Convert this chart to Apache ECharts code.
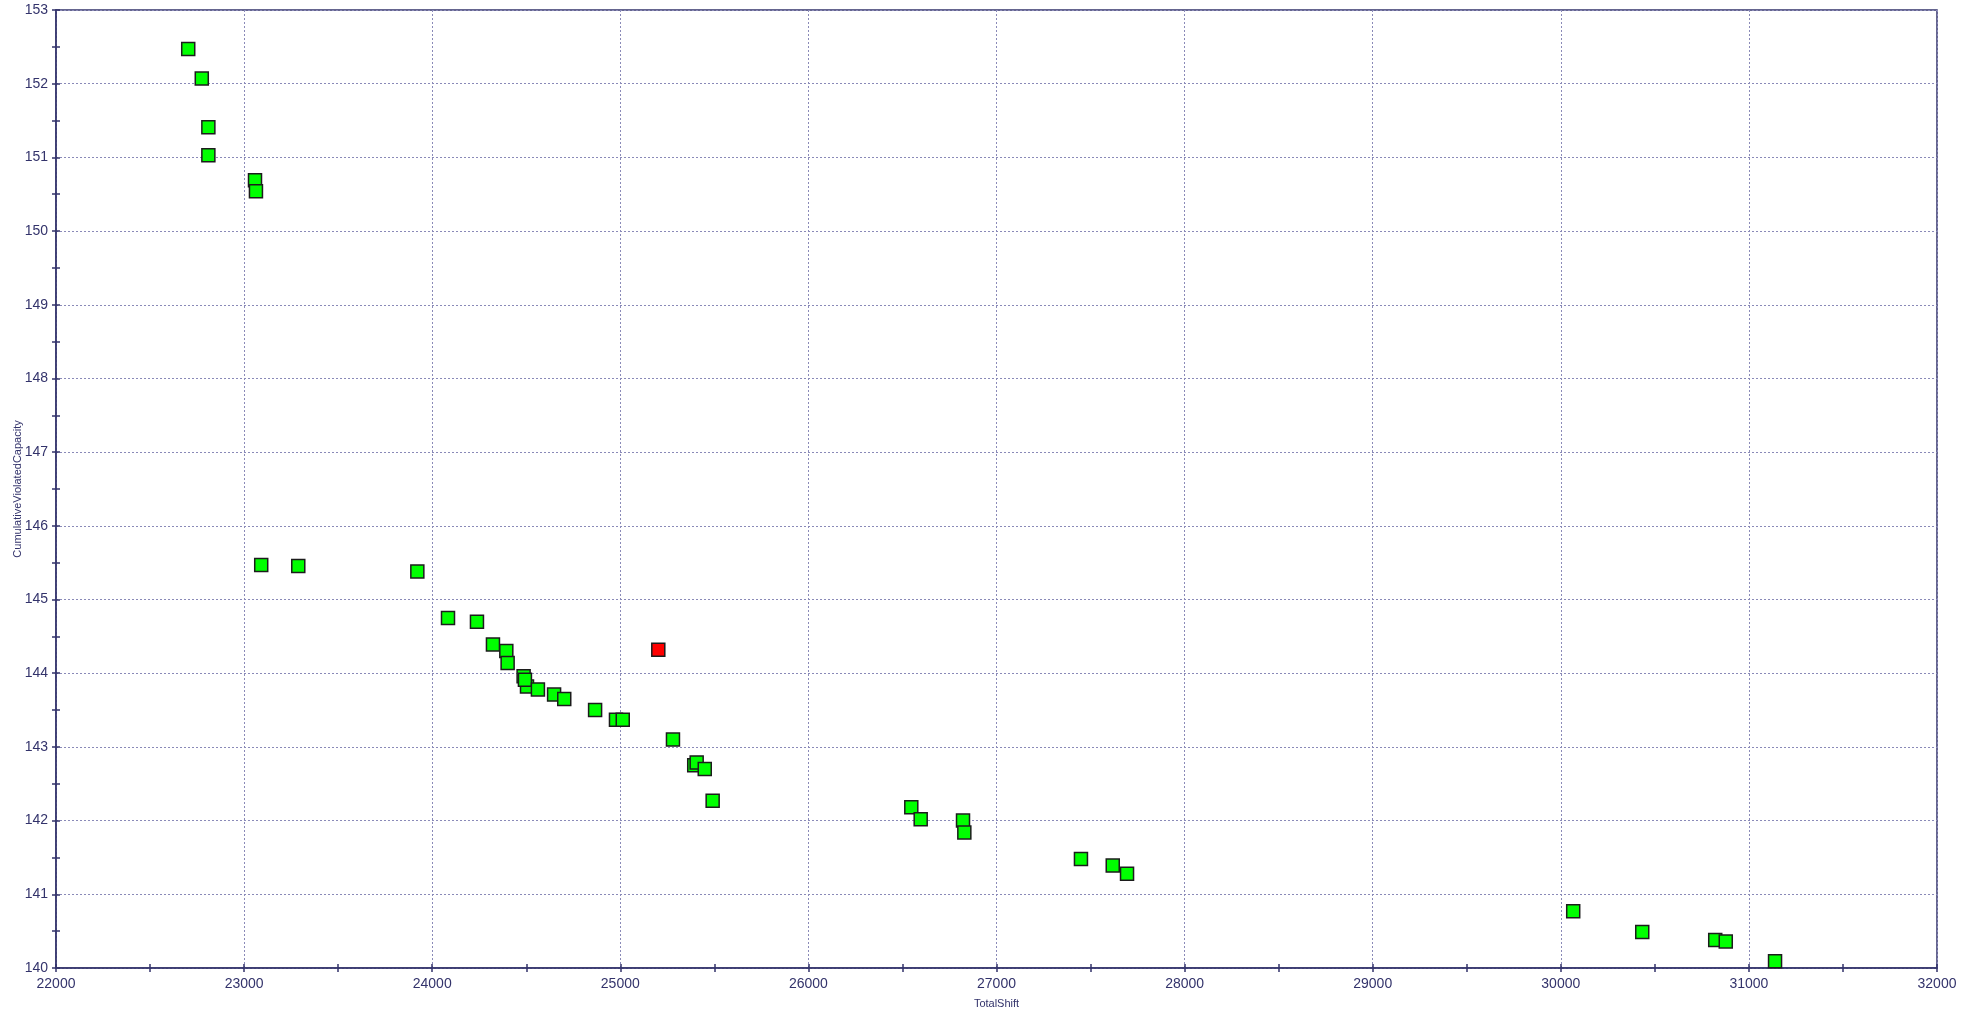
<!DOCTYPE html>
<html>
<head>
<meta charset="utf-8">
<script src="https://cdn.jsdelivr.net/npm/echarts@6/dist/echarts.min.js"></script>
<style>
html,body{margin:0;padding:0;background:#fff;}
#main{width:1977px;height:1013px;}
</style>
</head>
<body>
<div id="main"></div>
<script>
// values
var totalShift = [22703, 22775, 22810, 22810, 23058, 23063, 23091, 23288, 23921, 24084,
    24238, 24323, 24394, 24401, 24486, 24504, 24493, 24562, 24648, 24702,
    24866, 24977, 25013, 25280, 25393, 25406, 25449, 25491, 26547, 26597,
    26822, 26829, 27449, 27618, 27694, 30066, 30433, 30821, 30877, 31139];
var violatedCap = [152.47, 152.07, 151.41, 151.03, 150.69, 150.54, 145.47, 145.455, 145.38, 144.75,
    144.70, 144.39, 144.30, 144.14, 143.96, 143.82, 143.91, 143.78, 143.71, 143.65,
    143.50, 143.37, 143.37, 143.10, 142.75, 142.79, 142.70, 142.27, 142.18, 142.02,
    142.00, 141.84, 141.48, 141.39, 141.28, 140.77, 140.49, 140.38, 140.36, 140.09];
var redShift = [25202];
var redCap = [144.32];

var navy = '#33336b';
var gridCol = '#8a8ab8';

function pairs(xs, ys) {
    var out = [];
    for (var i = 0; i < xs.length; i++) {
        out.push([xs[i], ys[i]]);
    }
    return out;
}

var chart = echarts.init(document.getElementById('main'));
var option = {
    animation: false,
    textStyle: {fontFamily: 'Liberation Sans'},
    grid: {left: 56, right: 40, top: 10, bottom: 45, show: true, borderColor: navy, borderWidth: 1.5,
        backgroundColor: '#fff', outerBoundsMode: 'none', containLabel: false},
    xAxis: [{
        type: 'value', min: 22000, max: 32000, interval: 1000,
        name: 'TotalShift', nameLocation: 'middle', nameGap: 30,
        nameTextStyle: {color: navy, fontSize: 11},
        axisLine: {lineStyle: {color: navy, width: 1.5}},
        axisTick: {show: true, length: 4, lineStyle: {color: navy, width: 1.5}},
        minorTick: {show: true, splitNumber: 2, length: 4, lineStyle: {color: navy, width: 1.5}},
        axisLabel: {color: navy, fontSize: 14, margin: 9, formatter: function (v) { return String(v); }},
        splitLine: {show: true, lineStyle: {color: gridCol, type: [2, 2], width: 1}}
    }, {
        type: 'value', min: 22000, max: 32000, interval: 1000, position: 'bottom',
        axisLine: {show: false},
        axisTick: {show: true, inside: true, length: 4, lineStyle: {color: navy, width: 1.5}},
        minorTick: {show: true, splitNumber: 2, length: 4, lineStyle: {color: navy, width: 1.5}},
        axisLabel: {show: false},
        splitLine: {show: false}
    }],
    yAxis: [{
        type: 'value', min: 140, max: 153, interval: 1,
        name: 'CumulativeViolatedCapacity', nameLocation: 'middle', nameGap: 33, nameMoveOverlap: false,
        nameTextStyle: {color: navy, fontSize: 11},
        axisLine: {show: true, lineStyle: {color: navy, width: 1.5}},
        axisTick: {show: true, length: 4, lineStyle: {color: navy, width: 1.5}},
        minorTick: {show: true, splitNumber: 2, length: 4, lineStyle: {color: navy, width: 1.5}},
        axisLabel: {color: navy, fontSize: 14, margin: 8},
        splitLine: {show: true, lineStyle: {color: gridCol, type: [2, 2], width: 1}}
    }, {
        type: 'value', min: 140, max: 153, interval: 1, position: 'left',
        axisLine: {show: false},
        axisTick: {show: true, inside: true, length: 4, lineStyle: {color: navy, width: 1.5}},
        minorTick: {show: true, splitNumber: 2, length: 4, lineStyle: {color: navy, width: 1.5}},
        axisLabel: {show: false},
        splitLine: {show: false}
    }],
    series: [{
        type: 'scatter',
        symbol: 'rect',
        symbolSize: 13,
        itemStyle: {color: '#00ff00', borderColor: '#1c1c1c', borderWidth: 1.5, opacity: 1},
        data: pairs(totalShift, violatedCap)
    }, {
        type: 'scatter',
        symbol: 'rect',
        symbolSize: 13,
        itemStyle: {color: '#ff0000', borderColor: '#1c1c1c', borderWidth: 1.5, opacity: 1},
        data: pairs(redShift, redCap)
    }]
};
chart.setOption(option);
</script>
</body>
</html>
